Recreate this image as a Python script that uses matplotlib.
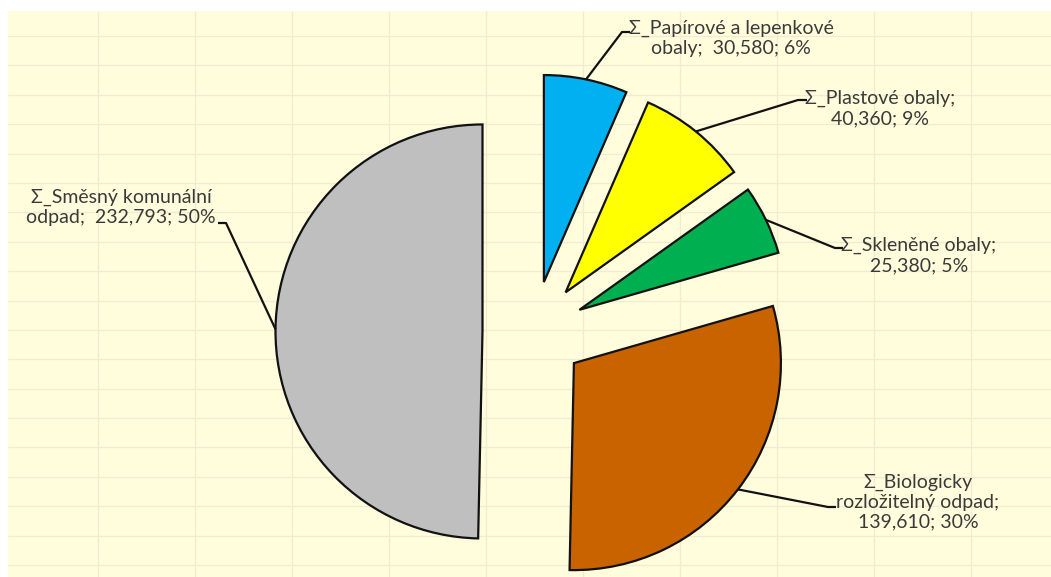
import numpy as np
import matplotlib
matplotlib.use("Agg")
import matplotlib.pyplot as plt
from matplotlib.patches import Rectangle

# ---- data ----
categories = ["Σ_Papírové a lepenkové obaly", "Σ_Plastové obaly", "Σ_Skleněné obaly",
              "Σ_Biologicky rozložitelný odpad", "Σ_Směsný komunální odpad"]
values = [30580, 40360, 25380, 139610, 232793]
percents = ["6%", "9%", "5%", "30%", "50%"]
label_texts = [
    "Σ_Papírové a lepenkové\nobaly;  30,580; 6%",
    "Σ_Plastové obaly;\n40,360; 9%",
    "Σ_Skleněné obaly;\n25,380; 5%",
    "Σ_Biologicky\nrozložitelný odpad;\n139,610; 30%",
    "Σ_Směsný komunální\nodpad;  232,793; 50%",
]
colors = ["#00B0F0", "#FFFF00", "#00B050", "#C96300", "#BFBFBF"]

W, H = 1051, 577
fig = plt.figure(figsize=(W / 100, H / 100), dpi=100, facecolor="white")
ax = fig.add_axes([0, 0, 1, 1])
ax.set_axis_off()

# background "sheet"
bg_left, bg_top = 8, 11
ax.add_patch(Rectangle((bg_left, 0), W - bg_left, H - bg_top, facecolor="#FFFDDC",
                       edgecolor="none", zorder=0))
gx = np.arange(98, W, 97.0)
gy = H - (36 + 29.39 * np.arange(0, 19))
ax.vlines(gx, 0, H - bg_top, color="#EFECD2", lw=0.9, zorder=0.5)
ax.hlines(gy, bg_left, W, color="#EFECD2", lw=0.9, zorder=0.5)

# pie
center = (533.5, H - 332)
radius = 207
explode = [51] * len(values)
wedges, _ = ax.pie(values, colors=colors, startangle=90, counterclock=False,
                   radius=radius, center=center, explode=explode, frame=True,
                   wedgeprops=dict(edgecolor="#111111", linewidth=1.6))
for w in wedges:
    w.set_zorder(2)

# labels (screen coords, y down): elbow point, horizontal end, text center
elbows = [(622, 32), (798, 100), (835, 248), (828, 507), (226, 223)]
ends = [(630, 32), (807, 100), (843, 248), (836, 507), (218, 223)]
text_pos = [(731, 38), (880, 108.5), (919, 255.5), (918, 502), (121, 207.5)]

for w, el, en, tp, txt in zip(wedges, elbows, ends, text_pos, label_texts):
    th = np.deg2rad((w.theta1 + w.theta2) / 2)
    sx = w.center[0] + w.r * np.cos(th)
    sy = w.center[1] + w.r * np.sin(th)
    ax.plot([sx, el[0], en[0]], [sy, H - el[1], H - en[1]], color="#111111",
            lw=1.6, zorder=3, solid_capstyle="butt")
    ax.text(tp[0], H - tp[1], txt, ha="center", va="center", multialignment="center",
            fontsize=14, color="#3A3A3A", family=["Lato", "DejaVu Sans"],
            linespacing=1.2, zorder=4)

ax.set_xlim(0, W)
ax.set_ylim(0, H)
ax.set_aspect("auto")

fig.savefig("out.png", dpi=100, facecolor="white")
